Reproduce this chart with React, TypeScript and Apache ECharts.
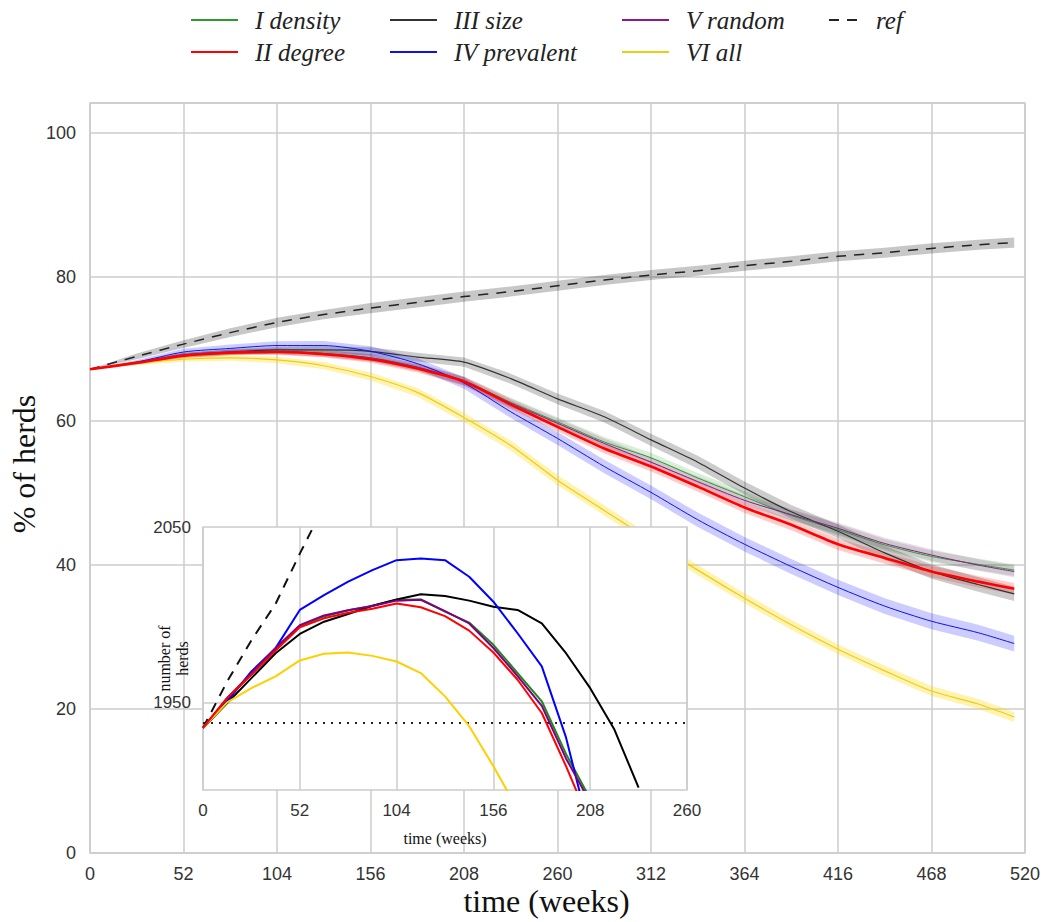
import React, { useEffect, useRef } from 'react';
import * as echarts from 'echarts';

// ---------- main panel: % of herds (weekly means) ----------
const weeks = [0, 26, 52, 78, 104, 130, 156, 182, 208, 234, 260, 286, 312, 338, 364, 390, 416, 442, 468, 494, 514];

const refMean = [67.2, 69.0, 70.7, 72.3, 73.7, 74.8, 75.7, 76.5, 77.3, 78.0, 78.8, 79.6, 80.3, 80.9, 81.6, 82.2, 82.9, 83.4, 84.0, 84.5, 84.8];
const densityMean = [67.2, 68.1, 69.2, 69.6, 69.7, 69.4, 68.8, 67.5, 65.6, 62.6, 59.9, 57.1, 54.9, 52.1, 49.5, 46.9, 44.9, 42.8, 41.2, 40.1, 39.3];
const degreeMean = [67.2, 68.1, 69.1, 69.5, 69.6, 69.3, 68.6, 67.3, 65.5, 62.3, 59.2, 56.2, 53.7, 50.9, 48.0, 45.6, 42.9, 41.0, 39.1, 37.7, 36.7];
const sizeMean = [67.2, 68.1, 69.1, 69.6, 69.9, 69.9, 69.7, 68.9, 68.2, 65.9, 63.1, 60.6, 57.4, 54.3, 50.7, 47.4, 44.7, 41.7, 39.1, 37.3, 36.0];
const prevalentMean = [67.2, 68.2, 69.6, 70.1, 70.5, 70.5, 69.7, 68.0, 65.3, 61.3, 57.6, 53.7, 50.1, 46.3, 42.9, 39.8, 36.9, 34.3, 32.2, 30.6, 29.1];
const randomMean = [67.2, 68.1, 69.2, 69.6, 69.7, 69.4, 68.8, 67.5, 65.6, 62.5, 59.7, 56.9, 54.3, 51.6, 49.0, 47.0, 45.1, 43.0, 41.4, 40.0, 39.1];
const allMean = [67.2, 68.0, 68.6, 68.8, 68.5, 67.7, 66.2, 64.0, 60.5, 56.6, 51.8, 47.6, 43.4, 39.3, 35.4, 31.7, 28.3, 25.3, 22.5, 20.7, 18.9];

// half widths of the shaded bands
const refHalf = [0, 0.4, 0.55, 0.6, 0.65, 0.65, 0.7, 0.7, 0.7, 0.7, 0.7, 0.7, 0.7, 0.7, 0.7, 0.7, 0.7, 0.7, 0.7, 0.7, 0.7];
const densityHalf = [0, 0.2, 0.3, 0.35, 0.4, 0.45, 0.5, 0.55, 0.6, 0.65, 0.65, 0.7, 0.7, 0.7, 0.75, 0.75, 0.8, 0.8, 0.8, 0.8, 0.8];
const degreeHalf = [0, 0.2, 0.3, 0.35, 0.4, 0.45, 0.5, 0.55, 0.6, 0.65, 0.65, 0.7, 0.7, 0.7, 0.75, 0.75, 0.8, 0.8, 0.8, 0.8, 0.8];
const sizeHalf = [0, 0.25, 0.35, 0.4, 0.45, 0.5, 0.55, 0.6, 0.65, 0.7, 0.75, 0.8, 0.85, 0.9, 0.9, 0.95, 0.95, 1.0, 1.0, 1.0, 1.0];
const prevalentHalf = [0, 0.3, 0.45, 0.55, 0.6, 0.65, 0.7, 0.75, 0.8, 0.85, 0.9, 0.95, 0.95, 1.0, 1.0, 1.05, 1.05, 1.1, 1.1, 1.1, 1.1];
const randomHalf = [0, 0.2, 0.3, 0.35, 0.4, 0.45, 0.5, 0.55, 0.6, 0.65, 0.65, 0.7, 0.7, 0.7, 0.75, 0.75, 0.8, 0.8, 0.8, 0.8, 0.8];
const allHalf = [0, 0.25, 0.35, 0.4, 0.45, 0.5, 0.55, 0.6, 0.65, 0.7, 0.7, 0.7, 0.7, 0.7, 0.7, 0.7, 0.7, 0.7, 0.7, 0.7, 0.7];

// ---------- inset: number of herds ----------
const insetWeeks = [0, 13, 26, 39, 52, 65, 78, 91, 104, 117, 130, 143, 156, 169, 182, 195, 208, 221, 234];
const insetRef = [1935.4, 1961.9, 1985.4, 2006.2, 2034.8, 2062];
const insetDensity = [1935.4, 1952.0, 1966.0, 1980.5, 1993.5, 1999.0, 2002.5, 2005.0, 2008.5, 2008.7, 2001.7, 1995.5, 1982.8, 1966.7, 1950.6, 1920.6, 1895];
const insetDegree = [1935.4, 1952.5, 1965.7, 1979.5, 1992.8, 1997.9, 2001.1, 2003.4, 2006.4, 2004.2, 1999.2, 1990.9, 1978.4, 1962.9, 1943.9, 1913.6, 1881];
const insetSize = [1935.4, 1949.6, 1963.8, 1978.0, 1989.0, 1996.0, 2000.4, 2005.1, 2008.7, 2011.7, 2010.6, 2008.0, 2004.5, 2002.7, 1995.1, 1978.0, 1958.1, 1934.5, 1901.3];
const insetPrevalent = [1935.4, 1950.6, 1967.6, 1980.9, 2002.7, 2011.2, 2018.8, 2025.4, 2031.1, 2032.0, 2031.1, 2021.6, 2007.4, 1989.4, 1970.5, 1930.0, 1875];
const insetRandom = [1935.4, 1952.5, 1966.5, 1981.0, 1994.0, 1999.5, 2002.5, 2005.0, 2008.0, 2008.5, 2002.0, 1995.0, 1981.0, 1965.0, 1948.0, 1918.0, 1893];
const insetAll = [1935.4, 1950.0, 1958.1, 1964.8, 1973.9, 1977.7, 1978.4, 1976.5, 1973.3, 1966.7, 1953.4, 1936.4, 1913.6, 1889];
const initialHerds = 1938.3;
const insetGridValues = [1950];
const insetYLabels = [1950, 2050];

const mainXTickStep = 52;
const insetXTickStep = 52;

type Strat = {
  name: string;
  mean: number[];
  half: number[];
  inset: number[];
  color: string;
  insetColor: string;
  band: string;
  width: number;
  dash?: number[];
};

const strategies: Strat[] = [
  { name: 'ref', mean: refMean, half: refHalf, inset: insetRef, color: '#222222', insetColor: '#111111', band: 'rgba(0,0,0,0.22)', width: 1.5, dash: [10, 8] },
  { name: 'I density', mean: densityMean, half: densityHalf, inset: insetDensity, color: '#2e9a2e', insetColor: '#1a8a1a', band: 'rgba(0,140,0,0.15)', width: 1 },
  { name: 'III size', mean: sizeMean, half: sizeHalf, inset: insetSize, color: '#333333', insetColor: '#000000', band: 'rgba(0,0,0,0.2)', width: 1.2 },
  { name: 'IV prevalent', mean: prevalentMean, half: prevalentHalf, inset: insetPrevalent, color: '#1010ee', insetColor: '#0000ff', band: 'rgba(0,0,255,0.2)', width: 1 },
  { name: 'V random', mean: randomMean, half: randomHalf, inset: insetRandom, color: '#8b1a8b', insetColor: '#800080', band: 'rgba(128,0,128,0.15)', width: 1 },
  { name: 'VI all', mean: allMean, half: allHalf, inset: insetAll, color: '#f0cc10', insetColor: '#ffd000', band: 'rgba(255,215,0,0.3)', width: 1.2 },
  { name: 'II degree', mean: degreeMean, half: degreeHalf, inset: insetDegree, color: '#ff0000', insetColor: '#ff0000', band: 'rgba(255,0,0,0.2)', width: 2.6 },
];

const gridColor = '#cccccc';
const sans = 'Liberation Sans, Arial, sans-serif';
const serif = 'Liberation Serif, Times New Roman, serif';

function buildOption(): any {
  const series: any[] = [];

  // shaded bands: one polygon per strategy, built through the axes' coord()
  strategies.forEach((s) => {
    const lo = weeks.map((w, j) => s.mean[j] - s.half[j]);
    const hi = weeks.map((w, j) => s.mean[j] + s.half[j]);
    series.push({
      type: 'custom',
      name: s.name + ' band',
      xAxisIndex: 0,
      yAxisIndex: 0,
      data: weeks.map((w, j) => [w, lo[j], hi[j]]),
      encode: { x: 0, y: [1, 2] },
      silent: true,
      z: 1,
      renderItem: (params: any, api: any) => {
        if (params.dataIndex !== 0) return null;
        const upper = weeks.map((w, j) => api.coord([w, hi[j]]));
        const lower = weeks.map((w, j) => api.coord([w, lo[j]])).reverse();
        return {
          type: 'polygon',
          shape: { points: upper.concat(lower) },
          style: { fill: s.band, stroke: 'none' },
          silent: true,
        };
      },
    });
  });

  // main lines
  strategies.forEach((s) => {
    series.push({
      type: 'line',
      name: s.name,
      xAxisIndex: 0,
      yAxisIndex: 0,
      data: weeks.map((w, j) => [w, s.mean[j]]),
      symbol: 'none',
      smooth: 0.25,
      color: s.color,
      lineStyle: { color: s.color, width: s.width, type: s.dash ? s.dash : 'solid' },
      z: 3,
    });
  });

  // inset lines
  strategies.forEach((s, i) => {
    const d: any = {
      type: 'line',
      name: s.name,
      xAxisIndex: 1,
      yAxisIndex: 1,
      data: s.inset.map((v, j) => [insetWeeks[j], v]),
      symbol: 'none',
      clip: true,
      color: s.insetColor,
      lineStyle: { color: s.insetColor, width: 2, type: s.dash ? s.dash : 'solid' },
      z: 7,
    };
    if (i === 0) {
      d.markLine = {
        silent: true,
        symbol: 'none',
        z: 6,
        label: { show: false },
        data: [
          ...insetGridValues.map((v) => ({ yAxis: v, lineStyle: { color: gridColor, width: 1.5, type: 'solid' } })),
          { yAxis: initialHerds, lineStyle: { color: '#222', width: 2, type: [2, 6] } },
        ],
      };
    }
    series.push(d);
  });

  const legendBase = {
    orient: 'vertical',
    top: 7,
    itemHeight: 14,
    itemGap: 6,
    padding: 0,
    selectedMode: false,
    itemStyle: { color: 'transparent', borderColor: 'transparent', borderWidth: 0, opacity: 0 },
    textStyle: {
      fontFamily: serif,
      fontStyle: 'italic',
      fontSize: 25,
      color: '#222',
      lineHeight: 26,
      padding: [0, 0, 0, 12],
    },
  };

  return {
    animation: false,
    backgroundColor: '#ffffff',
    legend: [
      { ...legendBase, left: 190, itemWidth: 47, data: ['I density', 'II degree'] },
      { ...legendBase, left: 389, itemWidth: 47, data: ['III size', 'IV prevalent'] },
      { ...legendBase, left: 621, itemWidth: 47, data: ['V random', 'VI all'] },
      { ...legendBase, left: 828, itemWidth: 30, data: ['ref'] },
    ],
    grid: [
      { left: 88, top: 103, right: 21, bottom: 66, show: true, borderColor: gridColor, borderWidth: 1.5, backgroundColor: '#ffffff', z: 0 },
      { left: 203, top: 527, width: 484, height: 263, show: true, borderColor: gridColor, borderWidth: 1.5, backgroundColor: '#ffffff', z: 5 },
    ],
    xAxis: [
      {
        gridIndex: 0,
        type: 'value',
        min: 0,
        max: 520,
        interval: mainXTickStep,
        axisLine: { show: false },
        axisTick: { show: false },
        splitLine: { lineStyle: { color: gridColor, width: 1.5 } },
        axisLabel: { fontFamily: sans, fontSize: 18, color: '#333', margin: 12 },
        name: 'time (weeks)',
        nameLocation: 'middle',
        nameGap: 32,
        nameMoveOverlap: false,
        nameTextStyle: { fontFamily: serif, fontSize: 32, color: '#111', padding: [0, 22, 0, 0] },
      },
      {
        gridIndex: 1,
        type: 'value',
        min: 0,
        max: 260,
        interval: insetXTickStep,
        z: 6,
        axisLine: { show: false },
        axisTick: { show: false },
        splitLine: { lineStyle: { color: gridColor, width: 1.5 } },
        axisLabel: { fontFamily: sans, fontSize: 17, color: '#333', margin: 12 },
        name: 'time (weeks)',
        nameLocation: 'middle',
        nameGap: 40,
        nameMoveOverlap: false,
        nameTextStyle: { fontFamily: serif, fontSize: 16, color: '#111' },
      },
    ],
    yAxis: [
      {
        gridIndex: 0,
        type: 'value',
        min: 0,
        max: 104.2,
        interval: 20,
        axisLine: { show: false },
        axisTick: { show: false },
        splitLine: { lineStyle: { color: gridColor, width: 1.5 } },
        axisLabel: { fontFamily: sans, fontSize: 18, color: '#333', margin: 14, showMaxLabel: false },
        name: '% of herds',
        nameLocation: 'middle',
        nameGap: 50,
        nameRotate: 90,
        nameMoveOverlap: false,
        nameTextStyle: { fontFamily: serif, fontSize: 32, color: '#111', padding: [0, 0, 0, 28] },
      },
      {
        gridIndex: 1,
        type: 'value',
        min: 1900,
        max: 2050,
        interval: 50,
        z: 6,
        axisLine: { show: false },
        axisTick: { show: false },
        splitLine: { show: false },
        axisLabel: {
          fontFamily: sans,
          fontSize: 17,
          color: '#333',
          margin: 12,
          formatter: (v: number) => (insetYLabels.indexOf(v) >= 0 ? String(v) : ''),
        },
        name: 'number of\nherds',
        nameLocation: 'middle',
        nameGap: 12,
        nameRotate: 90,
        nameMoveOverlap: false,
        nameTextStyle: { fontFamily: serif, fontSize: 16, color: '#111', lineHeight: 18 },
      },
    ],
    series,
  };
}

export default function App() {
  const ref = useRef<HTMLDivElement>(null);
  useEffect(() => {
    document.body.style.margin = '0';
    const chart = echarts.init(ref.current as HTMLDivElement, undefined, { renderer: 'svg' });
    chart.setOption(buildOption());
    return () => chart.dispose();
  }, []);
  return <div ref={ref} style={{ width: 1046, height: 922 }} />;
}
